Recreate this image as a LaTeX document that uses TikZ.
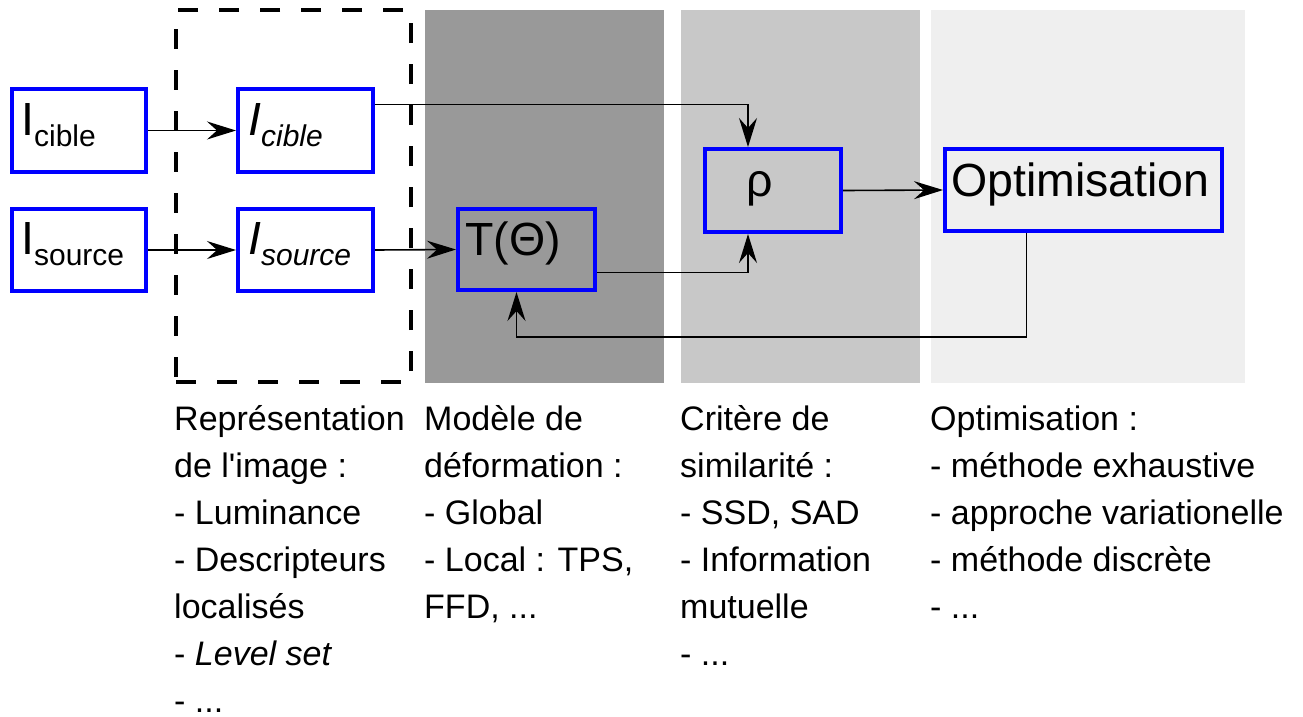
\documentclass[tikz,border=0pt]{standalone}
\usepackage{fontspec}
\setmainfont{Liberation Sans}
\usetikzlibrary{arrows.meta}
\definecolor{pdark}{RGB}{153,153,153}
\definecolor{pmid}{RGB}{200,200,200}
\definecolor{plight}{RGB}{239,239,239}
\definecolor{bblue}{RGB}{0,0,255}
\tikzset{
  box/.style={draw=bblue, line width=3.6pt, inner sep=0pt},
  lbl/.style={anchor=base west, inner sep=0pt, font=\fontsize{46.5}{50}\selectfont},
  arr/.style={line width=1.6pt, -{Stealth[length=29pt,width=18pt,inset=10pt]}},
  dbox/.style={draw, line width=4pt, dash pattern=on 20pt off 21pt, inner sep=0pt},
  col/.style={anchor=north west, inner sep=0pt, align=left, font=\fontsize{34}{47}\selectfont},
}
\newcommand{\subt}[1]{\raisebox{-11pt}{\fontsize{30}{30}\selectfont #1}}
\begin{document}
\begin{tikzpicture}[x=1pt,y=-1pt]
\useasboundingbox (0,0) rectangle (1303,716);
% panels
\fill[pdark] (425,10) rectangle (664,383);
\fill[pmid] (681,10) rectangle (920,383);
\fill[plight] (931,10) rectangle (1245,383);
% dashed frame
\node[dbox, minimum width=235pt, minimum height=372pt] (rep) at (293.5,196) {};
% boxes
\node[box, minimum width=134.4pt, minimum height=83.4pt] (icl) at (79,130.5) {};
\node[box, minimum width=134.4pt, minimum height=82.4pt] (isrc) at (79,250) {};
\node[box, minimum width=135.4pt, minimum height=83.4pt] (icl2) at (305.5,130.5) {};
\node[box, minimum width=135.4pt, minimum height=82.4pt] (isrc2) at (305.5,250) {};
\node[box, minimum width=137.4pt, minimum height=81.4pt] (T) at (526.5,249.5) {};
\node[box, minimum width=136.4pt, minimum height=83.4pt] (rho) at (773,190.5) {};
\node[box, minimum width=277.4pt, minimum height=82.4pt] (opt) at (1083.5,190) {};
% box labels
\node[lbl] (icl-t) at (21,135) {I\subt{cible}};
\node[lbl] (isrc-t) at (21,254) {I\subt{source}};
\node[lbl] (icl2-t) at (248,135) {\itshape I\subt{\itshape cible}};
\node[lbl] (isrc2-t) at (248,254) {\itshape I\subt{\itshape source}};
\node[lbl] (T-t) at (465,255) {T(Θ)};
\node[lbl, anchor=base] (rho-t) at (760,196) {ρ};
\node[lbl] (opt-t) at (951,196) {Optimisation};
% connectors
\draw[arr] (icl.east) -- (icl2.west);
\draw[arr] (isrc.east) -- (isrc2.west);
\draw[arr] (isrc2.east) -- (T.west);
\draw[arr] ([yshift=26pt]icl2.east) -| ([xshift=-25pt]rho.north);
\draw[arr] ([yshift=-23pt]T.east) -| ([xshift=-25pt]rho.south);
\draw[arr] (rho.east) -- (opt.west);
\draw[arr] ([xshift=-57pt]opt.south) -- ++(0,104) -| ([xshift=-10pt]T.south);
% column texts
\node[col] (c1) at (174,395) {\rule{0pt}{35pt}Représentation\\de l\textquotesingle image :\\- Luminance\\- Descripteurs\\localisés\\- \textit{Level set}\\- ...};
\node[col] (c2) at (424,395) {\rule{0pt}{35pt}Modèle de\\déformation :\\- Global\\- Local : TPS,\\FFD, ...};
\node[col] (c3) at (680,395) {\rule{0pt}{35pt}Critère de\\similarité :\\- SSD, SAD\\- Information\\mutuelle\\- ...};
\node[col] (c4) at (930,395) {\rule{0pt}{35pt}Optimisation :\\- méthode exhaustive\\- approche variationelle\\- méthode discrète\\- ...};
\end{tikzpicture}
\end{document}
